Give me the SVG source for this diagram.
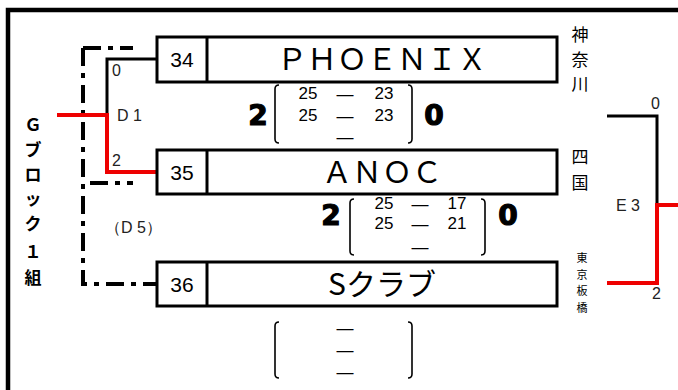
<svg xmlns="http://www.w3.org/2000/svg" width="678" height="390" viewBox="0 0 678 390">
<style>
.box{fill:#fff;stroke:#000;stroke-width:3}
.ln{fill:none;stroke:#000;stroke-width:3}
.red{fill:none;stroke:#e00;stroke-width:4}
.dd{fill:none;stroke:#000;stroke-width:4;stroke-dasharray:18 7 5 7}
.br{fill:none;stroke:#000;stroke-width:1.6}
.num{font-family:"Liberation Sans",Arial,sans-serif;font-size:21px;text-anchor:middle}
.name{font-family:"Noto Sans CJK JP",sans-serif;font-size:30px;text-anchor:middle}
.sc{font-family:"Liberation Sans",Arial,sans-serif;font-size:17px;text-anchor:middle}
.big{font-family:"DejaVu Sans",sans-serif;font-size:28px;font-weight:bold;text-anchor:middle;stroke:#000;stroke-width:1.2}
.lbl{font-family:"Liberation Sans",Arial,sans-serif;font-size:16px;fill:#222}
.vt{font-family:"Noto Sans CJK JP",sans-serif;font-size:17px;text-anchor:middle}
.vs{font-family:"Noto Sans CJK JP",sans-serif;font-size:11px;text-anchor:middle}
.gb{font-family:"Noto Sans CJK JP",sans-serif;font-size:17px;font-weight:bold;text-anchor:middle}
</style>
<path d="M8,390 V10 H678" fill="none" stroke="#000" stroke-width="4.5"/>
<g id="connectors">
<path class="dd" d="M83,48 H133"/>
<path class="dd" d="M83,48 V284 H157"/>
<path class="dd" d="M90,183 H133"/>
<path class="ln" d="M157,59 H107 V115"/>
<path class="red" d="M57,115 H107 V172 H157"/>
<path class="ln" d="M607,116 H657 V205"/>
<path class="red" d="M678,205 H657 V283 H607"/>
</g>
<g id="group-label">
<text class="gb"><tspan x="33" y="131">Ｇ</tspan><tspan x="33" y="156">ブ</tspan><tspan x="33" y="181">ロ</tspan><tspan x="33" y="205">ッ</tspan><tspan x="33" y="230">ク</tspan><tspan x="33" y="258">１</tspan><tspan x="33" y="284">組</tspan></text>
</g>
<g id="labels">
<text class="lbl" x="112" y="76">0</text>
<text class="lbl" x="117" y="121">D 1</text>
<text class="lbl" x="112" y="166">2</text>
<text class="lbl" x="105" y="233">（D 5）</text>
<text class="lbl" x="651" y="109">0</text>
<text class="lbl" x="616" y="211">E 3</text>
<text class="lbl" x="652" y="299">2</text>
</g>
<g id="team34">
<rect class="box" x="157" y="37" width="400" height="45"/>
<line class="ln" x1="207" y1="37" x2="207" y2="82"/>
<text class="num" x="182" y="67">34</text>
<text class="name" x="382" y="70">ＰＨＯＥＮＩＸ</text>
<text class="vt"><tspan x="580" y="41">神</tspan><tspan x="580" y="66">奈</tspan><tspan x="580" y="90">川</tspan></text>
</g>
<g id="team35">
<rect class="box" x="157" y="150" width="400" height="44"/>
<line class="ln" x1="207" y1="150" x2="207" y2="194"/>
<text class="num" x="182" y="180">35</text>
<text class="name" x="382" y="183">ＡＮＯＣ</text>
<text class="vt"><tspan x="580" y="163">四</tspan><tspan x="580" y="189">国</tspan></text>
</g>
<g id="team36">
<rect class="box" x="157" y="262" width="400" height="44"/>
<line class="ln" x1="207" y1="262" x2="207" y2="306"/>
<text class="num" x="182" y="292">36</text>
<text class="name" x="382" y="295">Sクラブ</text>
<text class="vs"><tspan x="582" y="262">東</tspan><tspan x="582" y="279">京</tspan><tspan x="582" y="295">板</tspan><tspan x="582" y="312">橋</tspan></text>
</g>
<g id="score1">
<text class="big" x="258" y="125">2</text>
<path class="br" d="M279,85 Q275,85 275,89 V139 Q275,143 279,143"/>
<text class="sc" x="308" y="99">25</text><text class="sc" x="345" y="100">—</text><text class="sc" x="384" y="99">23</text>
<text class="sc" x="308" y="121">25</text><text class="sc" x="345" y="122">—</text><text class="sc" x="384" y="121">23</text>
<text class="sc" x="345" y="143">—</text>
<path class="br" d="M408,85 Q412,85 412,89 V139 Q412,143 408,143"/>
<text class="big" x="434" y="125">0</text>
</g>
<g id="score2">
<text class="big" x="331" y="225">2</text>
<path class="br" d="M354,199 Q350,199 350,203 V251 Q350,255 354,255"/>
<text class="sc" x="384" y="209">25</text><text class="sc" x="420" y="210">—</text><text class="sc" x="457" y="209">17</text>
<text class="sc" x="384" y="229">25</text><text class="sc" x="420" y="230">—</text><text class="sc" x="457" y="229">21</text>
<text class="sc" x="420" y="253">—</text>
<path class="br" d="M481,199 Q485,199 485,203 V251 Q485,255 481,255"/>
<text class="big" x="508" y="225">0</text>
</g>
<g id="score3">
<path class="br" d="M279,322 Q275,322 275,326 V374 Q275,378 279,378"/>
<text class="sc" x="345" y="334">—</text>
<text class="sc" x="345" y="356">—</text>
<text class="sc" x="345" y="378">—</text>
<path class="br" d="M408,322 Q412,322 412,326 V374 Q412,378 408,378"/>
</g>
</svg>
